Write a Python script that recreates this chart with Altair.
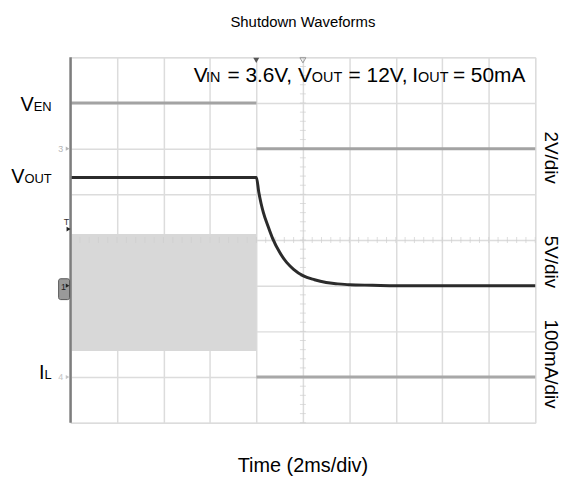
import altair as alt
import pandas as pd

# ---- data (time in ms, amplitude in screen divisions) ----
en_t = [0, 8, 8, 20]
en_v = [7.0, 7.0, 6.0, 6.0]
en_seg = ["on", "on", "off", "off"]

vout_t = [0, 8, 8.1, 8.2, 8.3, 8.5, 8.7, 9.0, 9.3, 9.6, 10, 10.5, 11, 11.5, 12, 13, 14, 20]
vout_v = [5.37, 5.37, 5.05, 4.80, 4.60, 4.30, 4.03, 3.73, 3.51, 3.36, 3.22, 3.13, 3.07, 3.04, 3.02, 3.01, 3.0, 3.0]

il_band_t = [0, 8]
il_top = [4.13, 4.13]
il_bot = [1.57, 1.57]
il_after_t = [8, 20]
il_after_v = [1.0, 1.0]

x_grid = list(range(0, 21, 2))
y_grid = list(range(0, 9))
minor_x = [round(0.4 * k, 2) for k in range(0, 51)]
minor_y = [round(0.2 * k, 2) for k in range(0, 41)]

W, H = 468, 368
FONT = "Liberation Sans"

en_df = pd.DataFrame({"t": en_t, "v": en_v, "seg": en_seg})
vout_df = pd.DataFrame({"t": vout_t, "v": vout_v})
band_df = pd.DataFrame({"t": il_band_t, "top": il_top, "bot": il_bot})
il_df = pd.DataFrame({"t": il_after_t, "v": il_after_v})
mx_df = pd.DataFrame({"t": minor_x, "v": [4.0] * len(minor_x)})
my_df = pd.DataFrame({"t": [10.0] * len(minor_y), "v": minor_y})
one = pd.DataFrame({"k": [0]})

xs = alt.Scale(domain=[0, 20], nice=False)
ys = alt.Scale(domain=[0, 8], nice=False)
xax = alt.Axis(values=x_grid, grid=True, labels=False, ticks=False, domain=False, title=None,
               gridColor="#dcdcdc", gridWidth=1.5)
yax = alt.Axis(values=y_grid, grid=True, labels=False, ticks=False, domain=False, title=None,
               gridColor="#dcdcdc", gridWidth=1.5)


def X(f="t"):
    return alt.X(f"{f}:Q", scale=xs, axis=xax)


def Y(f="v"):
    return alt.Y(f"{f}:Q", scale=ys, axis=yax)


band = alt.Chart(band_df).mark_area(color="#d8d8d8", opacity=1).encode(
    x=X(), y=Y("top"), y2="bot:Q")

minor_h = alt.Chart(mx_df).mark_tick(orient="vertical", size=6, thickness=1, color="#cfcfcf").encode(
    x=X(), y=Y())
minor_v = alt.Chart(my_df).mark_tick(orient="horizontal", size=6, thickness=1, color="#cfcfcf").encode(
    x=X(), y=Y())

en = alt.Chart(en_df).mark_line(color="#a3a3a3", strokeWidth=3).encode(
    x=X(), y=Y(), detail="seg:N")
il = alt.Chart(il_df).mark_line(color="#a8a8a8", strokeWidth=3).encode(x=X(), y=Y())
vout = alt.Chart(vout_df).mark_line(color="#2b2b2b", strokeWidth=3, interpolate="monotone").encode(
    x=X(), y=Y())

left_edge = alt.Chart(one).mark_rule(color="#7d7d7d", strokeWidth=2.5).encode(
    x=alt.value(0), y=alt.value(0), y2=alt.value(H))


def txt(s, x, y, size=21, align="left", baseline="alphabetic", color="#000000", angle=0):
    kw = dict(text=s, fontSize=size, font=FONT, align=align, baseline=baseline, color=color)
    if angle:
        kw["angle"] = angle
    return alt.Chart(one).mark_text(**kw).encode(x=alt.value(x), y=alt.value(y))


SUB = 14.5
texts = [
    # title and x label
    txt("Shutdown Waveforms", W / 2, -36, size=15, align="center", baseline="middle"),
    txt("Time (2ms/div)", W / 2, 412, size=20, align="center", baseline="middle"),
    # condition annotation
    txt("V", 124, 25), txt("IN", 136.5, 25, size=SUB),
    txt("= 3.6V,", 158, 25),
    txt("V", 243, 25, align="right"), txt("OUT", 243, 25, size=SUB),
    txt("= 12V,", 280, 25),
    txt("I", 350, 25, align="right"), txt("OUT", 350, 25, size=SUB),
    txt("= 50mA", 458, 25, align="right"),
    # trace labels
    txt("V", -37.1, 54, size=20, align="right"), txt("EN", -19, 54, size=13, align="right"),
    txt("V", -46.4, 127, size=20, align="right"), txt("OUT", -19, 127, size=13, align="right"),
    txt("I", -26.2, 324, size=20, align="right"), txt("L", -19, 324, size=13, align="right"),
    # scale labels
    txt("2V/div", 484, 101, size=19, align="center", baseline="middle", angle=90),
    txt("5V/div", 484, 206, size=19, align="center", baseline="middle", angle=90),
    txt("100mA/div", 484, 309, size=19, align="center", baseline="middle", angle=90),
    # scope markers
    txt("3", -10, 92, size=9, align="center", baseline="middle", color="#b5b5b5"),
    txt("4", -10, 322, size=9, align="center", baseline="middle", color="#c5c5c5"),
    txt("T", -4, 166, size=9, align="center", baseline="middle", color="#333333"),
]

box = alt.Chart(one).mark_rect(fill="#9a9a9a", stroke="#555555", strokeWidth=1, cornerRadius=2).encode(
    x=alt.value(-12), x2=alt.value(-1), y=alt.value(223), y2=alt.value(244))
box_t = txt("1", -7, 231, size=9, align="center", baseline="middle", color="#222222")


def pt(x, y, shape, size, color, filled=True):
    return alt.Chart(one).mark_point(shape=shape, size=size, filled=filled, color=color, opacity=1,
                                     strokeWidth=1).encode(x=alt.value(x), y=alt.value(y))


marks = [
    pt(-3, 92, "triangle-right", 18, "#b5b5b5"),
    pt(-3, 322, "triangle-right", 18, "#c5c5c5"),
    pt(-2, 173, "triangle-right", 22, "#222222"),
    pt(-3, 230, "triangle-right", 18, "#222222"),
    pt(187, 3, "triangle-down", 36, "#555555"),
    pt(234, 3, "triangle-down", 36, "#999999", filled=False),
]

chart = alt.layer(
    band, minor_h, minor_v, en, il, vout, left_edge, box, box_t, *marks, *texts
).properties(
    width=W, height=H,
    autosize=alt.AutoSizeParams(type="none"),
    padding={"left": 63, "top": 48, "right": 34, "bottom": 56},
).configure_view(stroke="#8a8a8a", strokeWidth=1.5).configure(background="white")

chart.save("out.html", embed_options={"renderer": "svg", "actions": False})
